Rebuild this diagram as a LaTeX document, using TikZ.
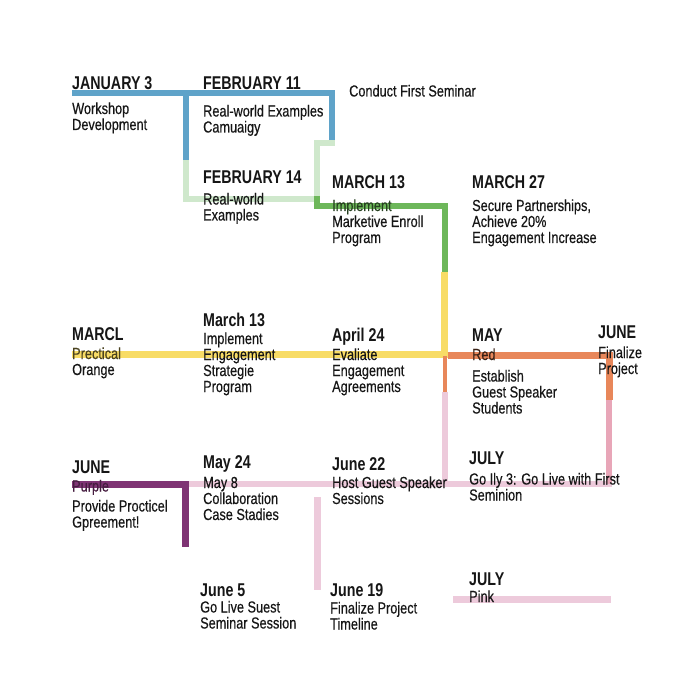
\documentclass[tikz,border=0pt]{standalone}
\usepackage{fontspec}
\setmainfont{Liberation Sans}[FakeStretch=0.795, FakeBold=0.4]
\newfontfamily\headfont{Liberation Sans}[FakeStretch=0.77]
\definecolor{ink}{HTML}{161616}
\definecolor{routeblue}{HTML}{5FA3C9}
\definecolor{routemint}{HTML}{CFE8CC}
\definecolor{routegreen}{HTML}{6DB75A}
\definecolor{routeyellow}{HTML}{F8DC66}
\definecolor{routeorange}{HTML}{E8875A}
\definecolor{routepink}{HTML}{E8A6B8}
\definecolor{routeblush}{HTML}{EDCADB}
\definecolor{routepurple}{HTML}{7F3474}
\tikzset{
  head/.style={font=\headfont\bfseries\fontsize{18.5}{18.5}\selectfont,
    text=ink, inner sep=0pt, anchor=base west},
  note/.style={font=\fontsize{16}{16}\selectfont,
    text=ink, inner sep=0pt, anchor=base west, align=left},
  route/.style={line width=6pt, line join=miter},
}
\begin{document}
\begin{tikzpicture}[x=1pt,y=-1pt]
  \useasboundingbox[fill=white] (0,0) rectangle (700,700);

  % corners of the routes
  \coordinate (jan) at (72,93.5);
  \coordinate (febsplit) at (186,93.5);
  \coordinate (febtop) at (332,93.5);
  \coordinate (febdrop) at (332,140);
  \coordinate (bluemint) at (186,160);
  \coordinate (mintlow) at (186,199);
  \coordinate (mintturn) at (316.5,199);
  \coordinate (minttop) at (316.5,143.5);
  \coordinate (mintend) at (335,143.5);
  \coordinate (greenstart) at (316.5,196);
  \coordinate (greenturn) at (316.5,206);
  \coordinate (greencorner) at (444.5,206);
  \coordinate (greenyellow) at (444.5,272);
  \coordinate (hub) at (444.5,354);
  \coordinate (marcl) at (72,354);
  \coordinate (hubright) at (447.5,355);
  \coordinate (junecorner) at (609,355);
  \coordinate (orangepink) at (609,400);
  \coordinate (hubdrop) at (445,392);
  \coordinate (hublow) at (445,484);
  \coordinate (julycorner) at (609,484);
  \coordinate (julyend) at (612,484);
  \coordinate (junel) at (72,484);
  \coordinate (purplecorner) at (185.5,484);
  \coordinate (purpleend) at (185.5,547);
  \coordinate (sessiontop) at (317.5,497);
  \coordinate (sessionlow) at (317.5,590);
  \coordinate (pinkstart) at (453,599);
  \coordinate (pinkend) at (611,599);

  % routes
  \draw[route, routemint] (bluemint) -- (mintlow) -- (mintturn) -- (minttop) -- (mintend);
  \draw[route, routeblue] (jan) -- (febtop) -- (febdrop);
  \draw[route, routeblue] (febsplit) -- (bluemint);
  \draw[route, routegreen] (greenstart) -- (greenturn) -- (greencorner) -- (greenyellow);
  \draw[route, routeyellow, line width=7pt] (greenyellow) -- (hub);
  \draw[route, routeyellow, line width=7pt] (marcl) -- (448,354);
  \draw[route, routeblush] (hubdrop) -- (hublow);
  \draw[route, routeblush] (purplecorner) -- (julyend);
  \draw[route, routepink] (orangepink) -- (julycorner);
  \draw[route, routeorange, line width=4pt] (445,356) -- (hubdrop);
  \draw[route, routeorange, line width=7pt] (hubright) -- (junecorner) -- (orangepink);
  \draw[route, routepurple, line width=7pt] (junel) -- (purplecorner) -- (purpleend);
  \draw[route, routeblush, line width=7pt] (sessiontop) -- (sessionlow);
  \draw[route, routeblush, line width=7pt] (pinkstart) -- (pinkend);

  % row one (notes sit on the baseline of their last line)
  \node[head] (janhead) at (72,90) {JANUARY 3};
  \node[note] (jannote) at (72,130) {Workshop\\Development};
  \node[head] (febhead) at (203,90) {FEBRUARY 11};
  \node[note] (febnote) at (203,132.5) {Real-world Examples\\Camuaigy};
  \node[note] (seminar) at (349,96.5) {Conduct First Seminar};
  \node[head] (feb14head) at (203,184) {FEBRUARY 14};
  \node[note] (feb14note) at (203,220.5) {Real-world\\Examples};
  \node[head] (marhead) at (332,189) {MARCH 13};
  \node[note] (marnote) at (332,243) {\textcolor{routegreen!35!black}{Implement}\\Marketive Enroll\\Program};
  \node[head] (mar27head) at (472,189) {MARCH 27};
  \node[note] (mar27note) at (472,243) {Secure Partnerships,\\Achieve 20\%\\Engagement Increase};

  % row two
  \node[head] (marclhead) at (72,340) {MARCL};
  \node[note] (marclnote) at (72,375) {\textcolor{routeyellow!30!black}{Prectical}\\Orange};
  \node[head] (march13head) at (203,326) {March 13};
  \node[note] (march13note) at (203,392) {Implement\\Engagement\\Strategie\\Program};
  \node[head] (aprhead) at (332,341.5) {April 24};
  \node[note] (aprnote) at (332,392) {Evaliate\\Engagement\\Agreements};
  \node[head] (mayhead) at (472,341) {MAY};
  \node[note] (maytag) at (472,360) {\textcolor{routeorange!25!black}{Red}};
  \node[note] (maynote) at (472,413.5) {Establish\\Guest Speaker\\Students};
  \node[head] (junehead) at (598,338.5) {JUNE};
  \node[note] (junenote) at (598,374) {Finalize\\Project};

  % row three
  \node[head] (junelhead) at (72,473) {JUNE};
  \node[note] (juneltag) at (72,491.5) {\textcolor{routepurple!55!black}{Purple}};
  \node[note] (junelnote) at (72,527.5) {Provide Procticel\\Gpreement!};
  \node[head] (may24head) at (203,468) {May 24};
  \node[note] (may24note) at (203,520) {May 8\\Collaboration\\Case Stadies};
  \node[head] (june22head) at (332,470) {June 22};
  \node[note] (june22note) at (332,504) {Host Guest Speaker\\Sessions};
  \node[head] (julyhead) at (469,464) {JULY};
  \node[note] (julynote) at (469,500.5) {Go Ily 3: Go Live with First\\Seminion};

  % row four
  \node[head] (june5head) at (200,596) {June 5};
  \node[note] (june5note) at (200,628.5) {Go Live Suest\\Seminar Session};
  \node[head] (june19head) at (330,596.5) {June 19};
  \node[note] (june19note) at (330,629.5) {Finalize Project\\Timeline};
  \node[head] (julylhead) at (469,585.5) {JULY};
  \node[note] (julyltag) at (469,602) {Pink};
\end{tikzpicture}
\end{document}
